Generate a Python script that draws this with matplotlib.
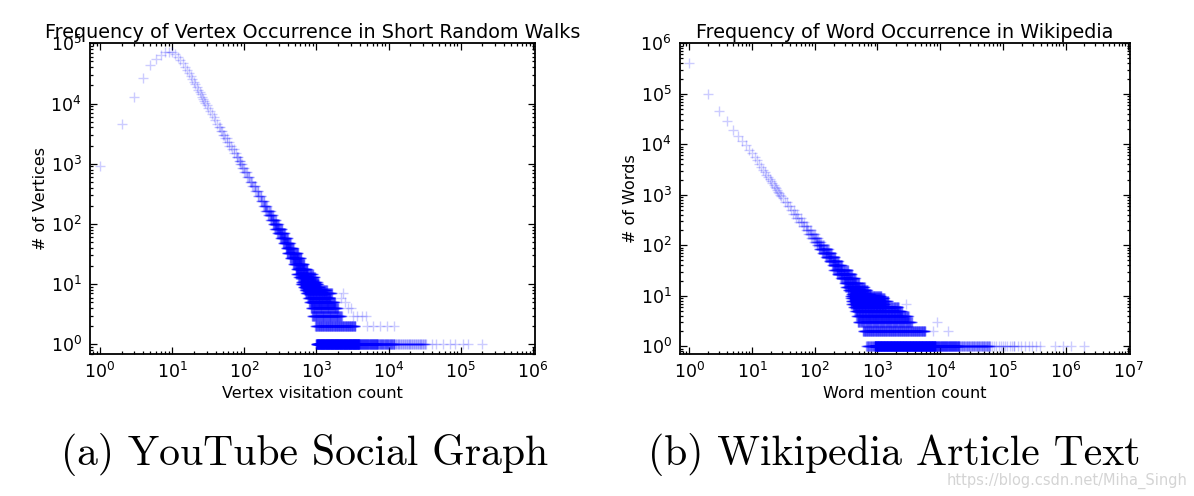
import numpy as np
import matplotlib
matplotlib.use("Agg")
import matplotlib.pyplot as plt
from matplotlib.ticker import LogLocator, NullFormatter

# ---------------- (a) YouTube: vertex visitation count -> number of vertices
yt_single_x = list(range(1, 31))
yt_single_y = [920, 4600, 12800, 26500, 43500, 55000, 63500, 70500, 72000, 71500,
               67000, 60000, 53000, 46500, 41000, 36000, 32000, 28500, 25500, 23000,
               20800, 18800, 17000, 15500, 14200, 13000, 12000, 11000, 10200, 9400]
# runs: number of vertices, first & last visitation count of the run, marks in the run
yt_run_y = [8300, 7400, 6600, 5900, 5300, 4600, 4000, 3500, 3050, 2650, 2300, 2000,
            1750, 1500, 1300, 1100, 1000, 850, 720, 600, 500, 420, 350, 290, 240,
            200, 165, 140, 118, 100, 84, 70, 58, 48, 40, 33, 27, 22, 18, 15, 13, 11,
            10, 9, 8, 7, 6, 5, 4, 3, 2, 1, 1, 1, 1]
yt_run_first = [31, 33, 35, 37, 39, 41, 44, 47, 50, 54, 58, 62,
                67, 72, 78, 84, 86, 93, 100, 110, 120, 127, 140, 153, 168,
                183, 194, 211, 229, 248, 261, 285, 312, 342, 374, 388, 428, 472, 520, 517, 555, 602,
                600, 644, 680, 700, 750, 785, 830, 865, 960, 990, 3900, 7000, 12000]
yt_run_last = [32, 34, 36, 38, 40, 43, 46, 49, 53, 57, 61, 66,
               71, 77, 83, 88, 92, 99, 108, 118, 128, 143, 157, 172, 188,
               205, 233, 253, 275, 298, 336, 367, 402, 440, 481, 558, 616, 679, 749, 899, 963, 1045,
               1075, 1133, 1400, 1650, 1560, 1820, 2000, 2250, 3470, 3900, 7000, 12000, 33000]
yt_run_marks = [1, 1, 1, 1, 1, 1, 2, 2, 2, 2, 2, 2,
                2, 2, 3, 3, 3, 3, 4, 4, 4, 5, 5, 6, 7,
                9, 11, 13, 15, 20, 25, 27, 30, 32, 34, 50, 52, 55, 58, 65, 65, 65,
                85, 85, 100, 110, 100, 110, 115, 125, 180, 550, 110, 65, 50]
yt_iso_x = [2340, 2200, 2500, 2700, 3000, 3200, 3700, 4300, 4900,
            5000, 6000, 7500, 9600, 12000,
            40000, 46000, 57000, 70000, 83000, 108000, 126000, 200000]
yt_iso_y = [7, 6, 5, 4, 4, 3, 3, 3, 3,
            2, 2, 2, 2, 2,
            1, 1, 1, 1, 1, 1, 1, 1]

# ---------------- (b) Wikipedia: word mention count -> number of words
wk_single_x = list(range(1, 30))
wk_single_y = [403000, 100000, 45300, 28300, 19400, 14500, 11600, 9500, 7800, 6700,
               5600, 4800, 4100, 3600, 3150, 2800, 2500, 2250, 2050, 1850,
               1700, 1560, 1430, 1330, 1230, 1140, 1070, 1000, 940]
wk_run_y = [850, 720, 600, 500, 420, 350, 290, 240, 200, 165, 140, 118, 100,
            84, 70, 58, 48, 40, 33, 27, 22, 18, 15, 13, 11,
            10, 9, 8, 7, 6, 5, 4, 3, 2, 1, 1, 1, 1, 1, 1]
wk_run_first = [30, 33, 37, 42, 45, 51, 57, 65, 73, 79, 88, 98, 108,
                115, 130, 147, 167, 189, 197, 225, 257, 294, 303, 334, 374,
                364, 368, 372, 378, 403, 429, 457, 484, 582, 660, 900, 8400, 20000, 62000, 150000]
wk_run_last = [32, 36, 41, 46, 53, 60, 67, 76, 86, 102, 113, 126, 140,
               166, 188, 213, 242, 273, 341, 390, 447, 511, 633, 698, 780,
               1150, 1300, 1500, 1340, 2180, 2470, 3150, 3560, 5800, 900, 8400, 20000, 62000, 150000, 390000]
wk_run_marks = [1, 2, 2, 2, 3, 3, 4, 4, 5, 8, 9, 10, 13,
                28, 28, 30, 30, 34, 50, 52, 54, 56, 70, 70, 70,
                130, 135, 140, 130, 170, 175, 195, 210, 280, 30, 750, 140, 75, 12, 8]
wk_iso_x = [2900, 2700, 2300, 8800, 7800, 13500, 690000, 910000, 1200000, 2000000]
wk_iso_y = [7, 4, 5, 3, 2, 2, 1, 1, 1, 1]

titles = ["Frequency of Vertex Occurrence in Short Random Walks",
          "Frequency of Word Occurrence in Wikipedia"]
xlabels = ["Vertex visitation count", "Word mention count"]
ylabels = ["# of Vertices", "# of Words"]
captions = ["(a) YouTube Social Graph", "(b) Wikipedia Article Text"]
x_decades = [range(0, 7), range(0, 8)]
y_decades = [range(0, 6), range(0, 7)]


def expand(single_x, single_y, ry, rf, rl, rn, ix, iy):
    xs = [np.asarray(single_x, float)]
    ys = [np.asarray(single_y, float)]
    for y, a, b, n in zip(ry, rf, rl, rn):
        xx = np.unique(np.round(np.geomspace(a, b, n))) if n > 1 else np.array([(a + b) / 2.0])
        xs.append(xx)
        ys.append(np.full(xx.size, float(y)))
    xs.append(np.asarray(ix, float))
    ys.append(np.asarray(iy, float))
    return np.concatenate(xs), np.concatenate(ys)


fig = plt.figure(figsize=(11.94, 4.96), dpi=100)
ax1 = fig.add_axes([90 / 1194, 1 - 353.7 / 496, 445 / 1194, 310.4 / 496])
ax2 = fig.add_axes([680 / 1194, 1 - 353.7 / 496, 450 / 1194, 310.4 / 496])

data = [
    expand(yt_single_x, yt_single_y, yt_run_y, yt_run_first, yt_run_last, yt_run_marks,
           yt_iso_x, yt_iso_y),
    expand(wk_single_x, wk_single_y, wk_run_y, wk_run_first, wk_run_last, wk_run_marks,
           wk_iso_x, wk_iso_y),
]
xlims = [(0.727, 1.07e6), (0.71, 1.065e7)]
ylims = [(0.70, 1e5), (0.71, 1e6)]

for i, ax in enumerate([ax1, ax2]):
    x, y = data[i]
    ax.plot(x, y, linestyle="none", marker="+", ms=6.7, mew=1.0,
            color="blue", alpha=0.2)
    ax.set_xscale("log")
    ax.set_yscale("log")
    ax.set_xticks([10.0 ** k for k in x_decades[i]])
    ax.set_yticks([10.0 ** k for k in y_decades[i]])
    ax.set_xlim(*xlims[i])
    ax.set_ylim(*ylims[i])
    for axis in (ax.xaxis, ax.yaxis):
        axis.set_minor_locator(LogLocator(base=10, subs=np.arange(2, 10), numticks=20))
        axis.set_minor_formatter(NullFormatter())
    ax.tick_params(which="both", direction="in", top=True, right=True,
                   labelsize=12.5, width=0.9, colors="black")
    ax.tick_params(which="major", length=5, pad=6)
    ax.tick_params(which="minor", length=2.5)
    for sp in ax.spines.values():
        sp.set_linewidth(1.3)
    ax.set_title(titles[i], fontsize=13.8, pad=4)
    ax.set_xlabel(xlabels[i], fontsize=11.5, labelpad=3)
    ax.set_ylabel(ylabels[i], fontsize=11.5, labelpad=2)

fig.text(305 / 1194, 1 - 455 / 496, captions[0], ha="center", va="center",
         fontsize=30, family="cmr10")
fig.text(894 / 1194, 1 - 455 / 496, captions[1], ha="center", va="center",
         fontsize=30, family="cmr10")
fig.text(1187 / 1194, 1 - 481 / 496, "https://blog.csdn.net/Miha_Singh",
         ha="right", va="center", fontsize=10.5, color="#d4d4d4",
         family=["Liberation Sans Narrow", "DejaVu Sans"])

fig.savefig("out.png", dpi=100)
